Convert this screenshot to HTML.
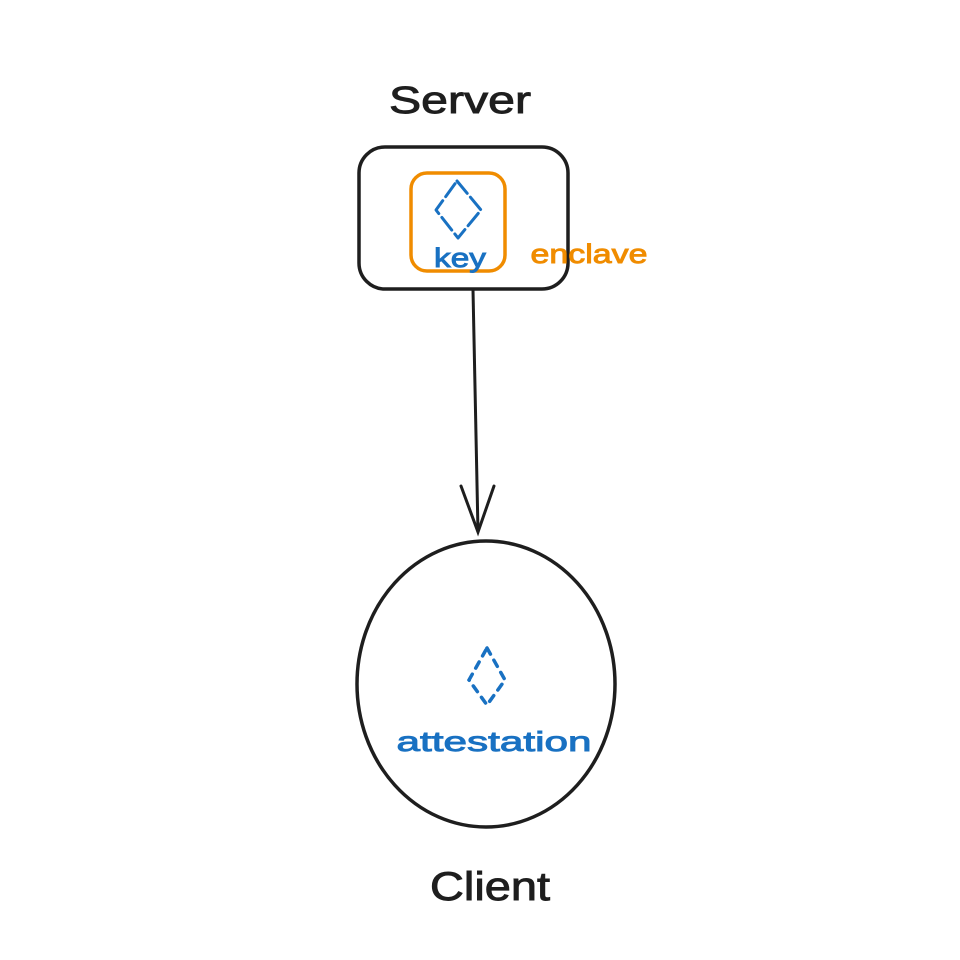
<!DOCTYPE html>
<html><head><meta charset="utf-8"><style>html,body{margin:0;padding:0;background:#fff}svg{display:block}</style></head>
<body>
<svg width="960" height="960" viewBox="0 0 960 960" xmlns="http://www.w3.org/2000/svg">
<rect width="960" height="960" fill="#fff"/>
<g font-family="Liberation Sans, sans-serif" stroke-width="0.9">
<text x="460" y="113" font-size="38" text-anchor="middle" fill="#1e1e1e" stroke="#1e1e1e" textLength="142" lengthAdjust="spacingAndGlyphs">Server</text>
<rect x="359" y="147" width="209" height="142" rx="26" fill="none" stroke="#1e1e1e" stroke-width="3.5"/>
<rect x="411" y="173" width="94" height="98" rx="16" fill="none" stroke="#f08c00" stroke-width="3.5"/>
<path d="M457 181 L481 210 L458 238 L436 210 Z" fill="none" stroke="#1971c2" stroke-width="3" stroke-dasharray="16 5" stroke-linejoin="round" stroke-linecap="round"/>
<text x="460" y="267" font-size="27" text-anchor="middle" fill="#1971c2" stroke="#1971c2" textLength="52" lengthAdjust="spacingAndGlyphs">key</text>
<text x="589" y="263" font-size="27" text-anchor="middle" fill="#f08c00" stroke="#f08c00" textLength="117" lengthAdjust="spacingAndGlyphs">enclave</text>
<path d="M473 290 L478 532" stroke="#1e1e1e" stroke-width="3" fill="none"/>
<path d="M461 486 L478 532 L494 486" stroke="#1e1e1e" stroke-width="3" fill="none" stroke-linecap="round"/>
<ellipse cx="486" cy="684" rx="129" ry="143" fill="none" stroke="#1e1e1e" stroke-width="3.5"/>
<path d="M487 648 L505 680 L487 705 L469 680 Z" fill="none" stroke="#1971c2" stroke-width="3.5" stroke-dasharray="7 7" stroke-linecap="round"/>
<text x="494" y="751" font-size="28" text-anchor="middle" fill="#1971c2" stroke="#1971c2" textLength="195" lengthAdjust="spacingAndGlyphs">attestation</text>
<text x="490" y="900" font-size="40" text-anchor="middle" fill="#1e1e1e" stroke="#1e1e1e" textLength="120" lengthAdjust="spacingAndGlyphs">Client</text>
</g>
</svg>
</body></html>
